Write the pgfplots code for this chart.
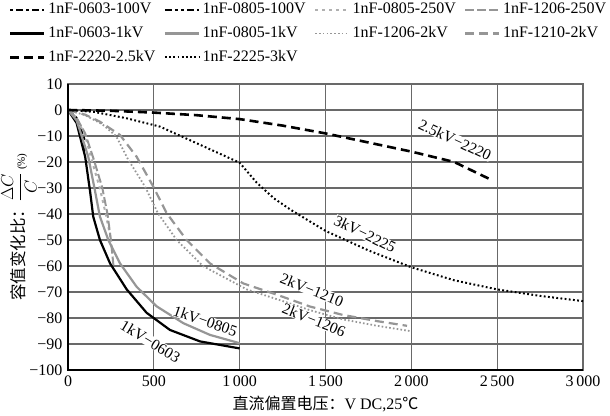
\documentclass[border=0pt]{standalone}
\usepackage{pgfplots}
\pgfplotsset{compat=1.18}
\usepackage{fontspec}
\setmainfont{Liberation Serif}
\newfontfamily\cjk{Noto Sans CJK SC}

\definecolor{curvegray}{RGB}{150,150,150}
\definecolor{gridgray}{RGB}{105,105,105}

\begin{document}
\fontsize{16}{19}\selectfont
\begin{tikzpicture}
\useasboundingbox (0pt,0pt) rectangle (610pt,415pt);
\begin{axis}[
  at={(68pt,45pt)}, anchor=south west,
  scale only axis,
  width=515pt, height=286pt,
  xmin=0, xmax=3000,
  ymin=-100, ymax=10,
  xtick={0,500,1000,1500,2000,2500,3000},
  xticklabels={0,500,1\,000,1\,500,2\,000,2\,500,3\,000},
  ytick={-100,-90,-80,-70,-60,-50,-40,-30,-20,-10,0,10},
  yticklabels={−100,−90,−80,−70,−60,−50,−40,−30,−20,−10,0,10},
  ticklabel style={font=\fontsize{16}{19}\selectfont},
  major tick length=0pt,
  grid=major,
  major grid style={draw=gridgray, line width=1.2pt},
  axis line style={draw=gridgray, line width=1.2pt},
  xlabel={{\cjk 直流偏置电压：}V DC,25{\cjk ℃}},
  xlabel style={font=\fontsize{16}{19}\selectfont, yshift=1pt},
  legend columns=4,
  legend cell align=left,
  legend style={draw=none, fill=none, at={(rel axis cs:-0.1146,1.292)},
    anchor=north west, font=\fontsize{16}{19}\selectfont,
    nodes={inner sep=2.5pt},
    /tikz/every even column/.append style={column sep=6pt},
    row sep=5.5pt, inner sep=0pt},
  legend image code/.code={\draw[#1] (0pt,0pt) -- (34pt,0pt);},
  clip=false,
]

% 1nF-0603-100V
\addplot[black, line width=2pt, dash pattern=on 3pt off 3pt on 7pt off 3pt]
  coordinates {(0,0) (50,-4) (100,-16)};
\addlegendentry{1nF-0603-100V}
% 1nF-0805-100V
\addplot[black, line width=2pt, dash pattern=on 7pt off 3pt on 3pt off 3pt on 3pt off 3pt]
  coordinates {(0,0) (50,-3) (100,-12)};
\addlegendentry{1nF-0805-100V}
% 1nF-0805-250V
\addplot[curvegray!75, line width=2pt, dash pattern=on 3pt off 4pt]
  coordinates {(0,0) (50,-3) (100,-10) (150,-22) (185,-30) (220,-40) (250,-50)};
\addlegendentry{1nF-0805-250V}
% 1nF-1206-250V
\addplot[curvegray, line width=2pt, dash pattern=on 9pt off 3pt]
  coordinates {(0,0) (50,-3) (100,-9) (150,-19) (200,-30) (230,-40) (250,-50) (265,-60)};
\addlegendentry{1nF-1206-250V}
% 1nF-0603-1kV
\addplot[black, line width=2.2pt]
  coordinates {(0,0) (50,-5) (100,-18) (128,-31) (147,-41) (186,-50) (245,-59)
    (342,-69) (458,-78) (594,-84.6) (769,-89) (1000,-91.7)};
\addlegendentry{1nF-0603-1kV}
% 1nF-0805-1kV
\addplot[curvegray, line width=2.2pt]
  coordinates {(0,0) (50,-4) (70,-8) (118,-18) (157,-31) (186,-41) (235,-50)
    (303,-59) (400,-68) (516,-75.5) (672,-82) (827,-86.5) (1000,-89.7)};
\addlegendentry{1nF-0805-1kV}
% 1nF-1206-2kV
\addplot[curvegray, line width=1.8pt, dash pattern=on 1.6pt off 2.2pt]
  coordinates {(0,0) (100,-2) (200,-5.5) (280,-10) (350,-19) (449,-29.5) (524,-39.7)
    (633,-50) (786,-60) (1041,-69) (1293,-74.4) (1410,-77) (1600,-80.5)
    (1800,-83) (1990,-85)};
\addlegendentry{1nF-1206-2kV}
% 1nF-1210-2kV
\addplot[curvegray, line width=2.2pt, dash pattern=on 9pt off 5pt]
  coordinates {(0,0) (100,-1.8) (186,-4.5) (303,-9.6) (400,-18) (497,-29.5)
    (575,-39.7) (691,-50) (827,-59) (1021,-66.7) (1215,-71) (1410,-75.6)
    (1600,-78.8) (1800,-81.2) (1975,-83)};
\addlegendentry{1nF-1210-2kV}
% 1nF-2220-2.5kV
\addplot[black, line width=2.6pt, dash pattern=on 9pt off 5pt]
  coordinates {(0,0) (250,-0.3) (500,-1) (750,-2) (1000,-3.5) (1250,-6)
    (1500,-9) (1750,-12.5) (2000,-16) (2250,-20) (2470,-27)};
\addlegendentry{1nF-2220-2.5kV}
% 1nF-2225-3kV
\addplot[black, line width=2pt, dash pattern=on 1.8pt off 2.4pt]
  coordinates {(0,0) (150,-0.7) (342,-3.2) (536,-6.4) (730,-12.2) (924,-18)
    (1000,-20.3) (1100,-28) (1200,-34) (1300,-38.5) (1400,-42.5) (1500,-46.5)
    (1750,-54) (2000,-60.5) (2250,-65.5) (2500,-69) (2750,-71.5) (3000,-73.5)};
\addlegendentry{1nF-2225-3kV}

% black left and bottom axis lines
\draw[black, line width=1.4pt] (rel axis cs:0,1) -- (rel axis cs:0,0) -- (rel axis cs:1,0);

% curve labels
\tikzset{clabel/.style={fill=white, inner sep=0.3pt, font=\fontsize{15.5}{18}\selectfont}}
\node[clabel, rotate=-25] at (axis cs:2254,-11.5) {2.5kV−2220};
\node[clabel, rotate=-26] at (axis cs:1730,-47.7) {3kV−2225};
\node[clabel, rotate=-22] at (axis cs:1421,-69.2) {2kV−1210};
\node[clabel, rotate=-22] at (axis cs:1433,-80.8) {2kV−1206};
\node[clabel, rotate=-19] at (axis cs:800,-81.2) {1kV−0805};
\node[clabel, rotate=-31] at (axis cs:480,-89) {1kV−0603};

% y label
\node[rotate=90, font=\fontsize{16.5}{19}\selectfont] at ([xshift=-49pt]rel axis cs:0,0.5)
  {{\cjk 容值变化比：}$\displaystyle\frac{\Delta C}{C}$\,{\fontsize{11}{13}\selectfont(\%)}};
\end{axis}
\end{tikzpicture}
\end{document}
